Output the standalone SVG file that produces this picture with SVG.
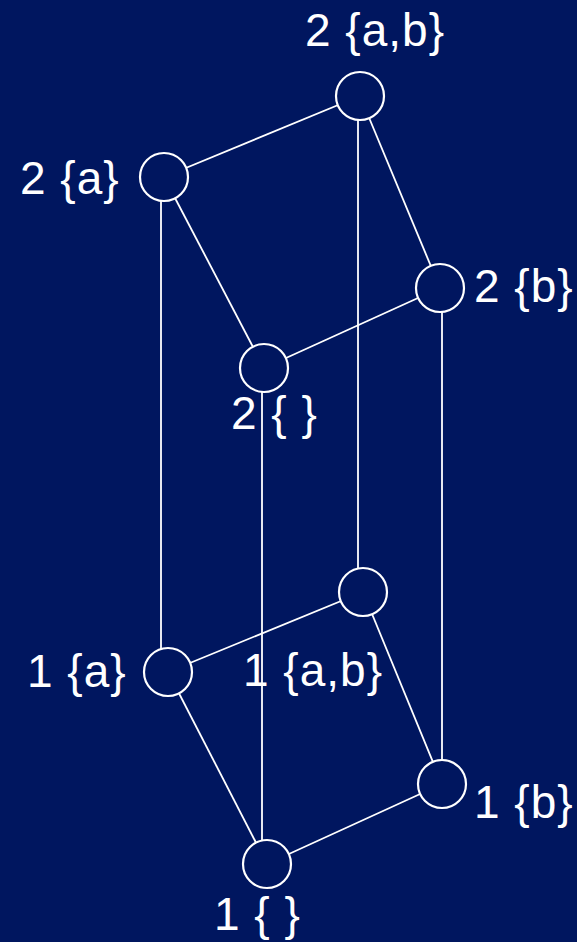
<svg xmlns="http://www.w3.org/2000/svg" width="577" height="942" viewBox="0 0 577 942">
<style>
.e{stroke:#ffffff;stroke-width:1.8;fill:none}
.n{fill:#00165f;stroke:#ffffff;stroke-width:2.2}
.t{font-family:"Liberation Sans",Arial,sans-serif;font-size:46px;letter-spacing:1px;fill:#ffffff}
</style>
<rect width="577" height="942" fill="#00165f"/>
<g id="connectors">
<line class="e" x1="161" y1="177" x2="161" y2="672"/>
<line class="e" x1="262" y1="368" x2="262" y2="864"/>
<line class="e" x1="358" y1="96" x2="358" y2="592"/>
<line class="e" x1="442" y1="288" x2="442" y2="784"/>
<line class="e" x1="164" y1="177" x2="360" y2="96"/>
<line class="e" x1="164" y1="177" x2="264" y2="368"/>
<line class="e" x1="360" y1="96" x2="440" y2="288"/>
<line class="e" x1="264" y1="368" x2="440" y2="288"/>
<line class="e" x1="168" y1="672" x2="363" y2="592"/>
<line class="e" x1="168" y1="672" x2="267" y2="864"/>
<line class="e" x1="363" y1="592" x2="442" y2="784"/>
<line class="e" x1="267" y1="864" x2="442" y2="784"/>
</g>
<g id="n2ab"><circle class="n" cx="360" cy="96" r="24"/><text class="t" x="305" y="46">2 {a,b}</text></g>
<g id="n2a"><circle class="n" cx="164" cy="177" r="24"/><text class="t" x="20" y="194">2 {a}</text></g>
<g id="n2b"><circle class="n" cx="440" cy="288" r="24"/><text class="t" x="474" y="302">2 {b}</text></g>
<g id="n2e"><circle class="n" cx="264" cy="368" r="24"/><text class="t" x="231" y="429">2 { }</text></g>
<g id="n1ab"><circle class="n" cx="363" cy="592" r="24"/><text class="t" x="243" y="686">1 {a,b}</text></g>
<g id="n1a"><circle class="n" cx="168" cy="672" r="24"/><text class="t" x="27" y="687">1 {a}</text></g>
<g id="n1b"><circle class="n" cx="442" cy="784" r="24"/><text class="t" x="474" y="818">1 {b}</text></g>
<g id="n1e"><circle class="n" cx="267" cy="864" r="24"/><text class="t" x="214" y="930">1 { }</text></g>
</svg>
